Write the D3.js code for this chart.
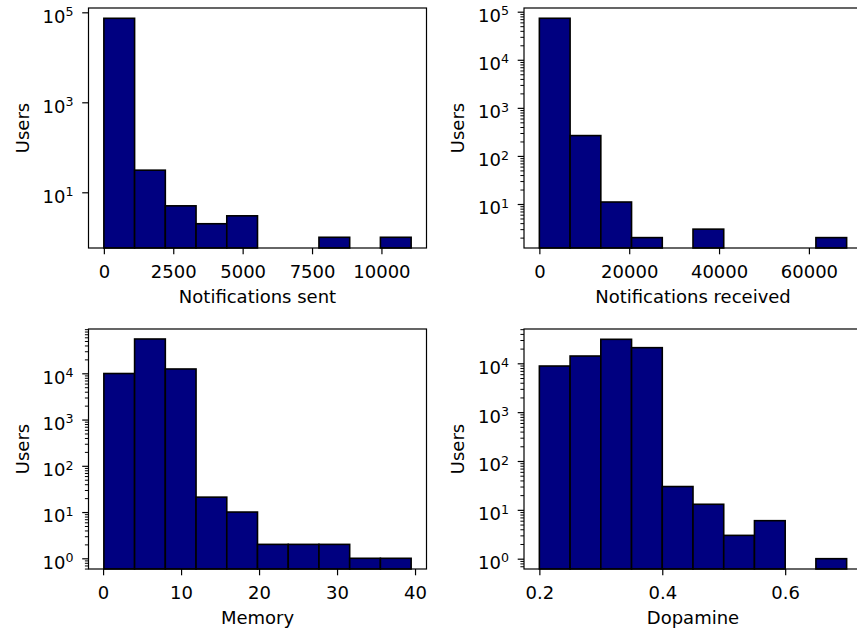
<!DOCTYPE html>
<html>
<head>
<meta charset="utf-8">
<title>Users histograms</title>
<script src="https://d3js.org/d3.v7.min.js"></script>
<style>
  body { margin: 0; background-color: #ffffff; }
  text { font-family: "DejaVu Sans", sans-serif; fill: #000; }
</style>
</head>
<body>
<div id="my_dataviz"></div>
<script>

// bin edges + counts
var sentEdges = [0, 1107, 2214, 3321, 4428, 5535, 6642, 7749, 8856, 9963, 11070];
var sentCounts = [73600, 31, 5, 2, 3, 0, 0, 1, 0, 1];
var sentTicks = [0, 2500, 5000, 7500, 10000];

var receivedEdges = [0, 6840, 13680, 20520, 27360, 34200, 41040, 47880, 54720, 61560, 68400];
var receivedCounts = [73000, 265, 11, 2, 0, 3, 0, 0, 0, 2];
var receivedTicks = [0, 20000, 40000, 60000];

var memoryEdges = [0.1, 4.04, 7.98, 11.92, 15.86, 19.8, 23.74, 27.68, 31.62, 35.56, 39.5];
var memoryCounts = [9900, 55200, 12400, 21, 10, 2, 2, 2, 1, 1];
var memoryTicks = [0, 10, 20, 30, 40];

var dopamineEdges = [0.2, 0.25, 0.3, 0.35, 0.4, 0.45, 0.5, 0.55, 0.6, 0.65, 0.7];
var dopamineCounts = [8800, 14100, 31000, 20900, 30, 13, 3, 6, 0, 1];
var dopamineTicks = [0.2, 0.4, 0.6];

// log y ranges and labelled powers of ten
var sentYRange = [0.578, 124700];
var receivedYRange = [1.216, 119400];
var memoryYRange = [0.587, 90800];
var dopamineYRange = [0.615, 50400];

var sentPowers = [1, 3, 5];
var receivedPowers = [1, 2, 3, 4, 5];
var memoryPowers = [0, 1, 2, 3, 4];
var dopaminePowers = [0, 1, 2, 3, 4];

var xLabels = ["Notifications sent", "Notifications received", "Memory", "Dopamine"];

// size of each subplot
var width = 338, height = 240;
var fontSize = 18;

var svg = d3.select("#my_dataviz")
  .append("svg")
    .attr("width", 857)
    .attr("height", 635)
    .style("display", "block");

svg.append("rect").attr("width", 857).attr("height", 635).attr("fill", "#fff");

var panels = [
  {left: 88.5, top: 8, edges: sentEdges, counts: sentCounts, ticks: sentTicks, yr: sentYRange, powers: sentPowers, minor: false, label: xLabels[0]},
  {left: 524, top: 8, edges: receivedEdges, counts: receivedCounts, ticks: receivedTicks, yr: receivedYRange, powers: receivedPowers, minor: true, label: xLabels[1]},
  {left: 88.5, top: 329, edges: memoryEdges, counts: memoryCounts, ticks: memoryTicks, yr: memoryYRange, powers: memoryPowers, minor: true, label: xLabels[2]},
  {left: 524, top: 329, edges: dopamineEdges, counts: dopamineCounts, ticks: dopamineTicks, yr: dopamineYRange, powers: dopaminePowers, minor: true, label: xLabels[3]}
];

panels.forEach(function(p) {
  var g = svg.append("g").attr("transform", "translate(" + p.left + "," + p.top + ")");

  // x: data range plus 5% padding each side (matplotlib margins)
  var lo = p.edges[0], hi = p.edges[p.edges.length - 1];
  var pad = (hi - lo) * 0.05;
  var x = d3.scaleLinear().domain([lo - pad, hi + pad]).range([0, width]);
  var y = d3.scaleLog().domain(p.yr).range([height, 0]);

  var bins = p.counts.map(function(c, i) { return {x0: p.edges[i], x1: p.edges[i + 1], n: c}; })
    .filter(function(d) { return d.n > 0; });

  g.append("g")
    .selectAll("rect")
    .data(bins)
    .enter()
    .append("rect")
      .attr("x", function(d) { return x(d.x0); })
      .attr("width", function(d) { return x(d.x1) - x(d.x0); })
      .attr("y", function(d) { return y(d.n); })
      .attr("height", function(d) { return height - y(d.n); })
      .attr("fill", "#000080")
      .attr("stroke", "#000")
      .attr("stroke-width", 1.6);

  // frame
  g.append("rect")
    .attr("width", width).attr("height", height)
    .attr("fill", "none").attr("stroke", "#000").attr("stroke-width", 1.2);

  // x axis
  var fmt = d3.format("");
  var xa = g.append("g")
    .attr("transform", "translate(0," + height + ")")
    .call(d3.axisBottom(x).tickValues(p.ticks).tickSize(6.3).tickPadding(11.4).tickFormat(function(d) { return fmt(d); }));
  xa.select(".domain").remove();
  xa.selectAll("line").attr("stroke-width", 1.2);
  xa.selectAll("text").style("font-size", fontSize + "px").attr("fill", "#000");

  // y axis, minor then major ticks
  if (p.minor) {
    var minors = [];
    var k0 = Math.floor(Math.log10(p.yr[0])), k1 = Math.ceil(Math.log10(p.yr[1]));
    for (var k = k0; k <= k1; k++) {
      for (var m = 2; m <= 9; m++) {
        var v = m * Math.pow(10, k);
        if (v >= p.yr[0] && v <= p.yr[1]) minors.push(v);
      }
    }
    var ym = g.append("g").call(d3.axisLeft(y).tickValues(minors).tickSize(3.6).tickFormat(""));
    ym.select(".domain").remove();
    ym.selectAll("line").attr("stroke-width", 1);
  }
  var majors = p.powers.map(function(e) { return Math.pow(10, e); });
  var ya = g.append("g").call(d3.axisLeft(y).tickValues(majors).tickSize(6.3).tickFormat(""));
  ya.select(".domain").remove();
  ya.selectAll("line").attr("stroke-width", 1.2);

  // 10^n labels
  var lab = g.append("g").selectAll("text")
    .data(p.powers)
    .enter()
    .append("text")
      .attr("text-anchor", "end")
      .attr("x", -15)
      .attr("y", function(e) { return y(Math.pow(10, e)) + 10.4; })
      .style("font-size", fontSize + "px");
  lab.append("tspan").text("10");
  lab.append("tspan")
    .attr("dy", -6.7)
    .style("font-size", (fontSize * 0.7) + "px")
    .text(function(e) { return e; });

  // axis titles
  g.append("text")
    .attr("text-anchor", "middle")
    .attr("x", width / 2)
    .attr("y", height + 55)
    .style("font-size", fontSize + "px")
    .text(p.label);
  g.append("text")
    .attr("text-anchor", "middle")
    .attr("transform", "rotate(-90)")
    .attr("x", -height / 2)
    .attr("y", -60)
    .style("font-size", fontSize + "px")
    .text("Users");
});

</script>
</body>
</html>
